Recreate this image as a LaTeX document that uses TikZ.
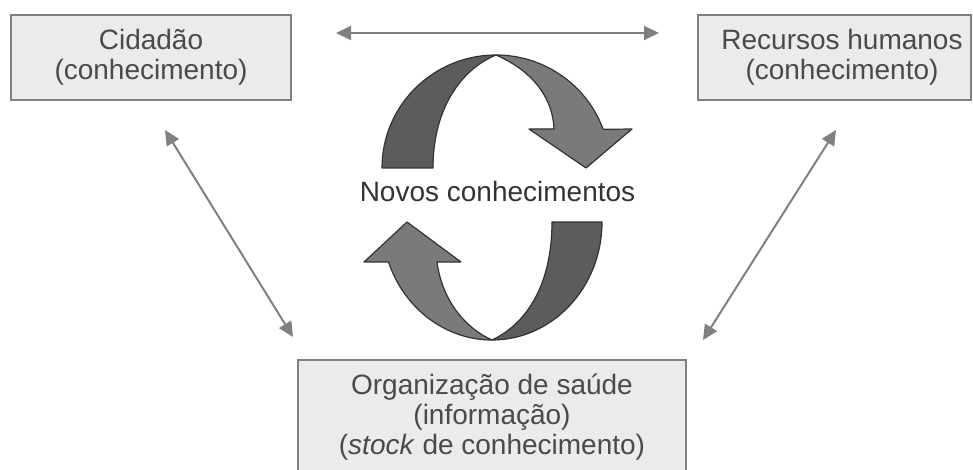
\documentclass[tikz,border=0pt]{standalone}
\usepackage{fontspec}
\setmainfont{Liberation Sans}
\usetikzlibrary{arrows.meta}
\definecolor{boxfill}{HTML}{EBEBEB}
\definecolor{boxline}{HTML}{808080}
\definecolor{boxtext}{HTML}{4A4A4A}
\definecolor{darkband}{HTML}{5C5C5C}
\definecolor{lightband}{HTML}{7A7A7A}
\definecolor{bandline}{HTML}{333333}
\begin{document}
\begin{tikzpicture}[x=1pt,y=-1pt,
  caixa/.style={draw=boxline,line width=2pt,fill=boxfill,text=boxtext,align=center,
    font=\fontsize{28}{30}\selectfont,inner sep=0pt},
  seta/.style={draw=boxline,line width=2pt,
    {Triangle[length=15pt,width=14pt]}-{Triangle[length=15pt,width=14pt]}},
  fita/.style={draw=bandline,line width=1.2pt,line join=round}]
  \useasboundingbox (0,0) rectangle (973,470);
  % caixas
  \node[caixa,minimum width=280pt,minimum height=85pt] (cid) at (151,57.5)
    {Cidadão\\(conhecimento)};
  \node[caixa,minimum width=273pt,minimum height=85pt] (rh) at (834.5,57.5)
    {\hspace*{15pt}Recursos humanos\\\hspace*{15pt}(conhecimento)};
  \node[caixa,minimum width=388pt,minimum height=114pt] (org) at (492,417)
    {Organização de saúde\\(informação)\\(\textit{stock} de conhecimento)};
  % ligacoes
  \draw[seta,shorten <=44pt,shorten >=38pt] ([yshift=24.5pt]cid.east) -- ([yshift=24.5pt]rh.west);
  \coordinate (cid tip) at (165,130);
  \coordinate (org tip left) at (293,337);
  \coordinate (rh tip) at (836,130);
  \coordinate (org tip right) at (703,340);
  \draw[seta] (cid tip) -- (org tip left);
  \draw[seta] (rh tip) -- (org tip right);
  % seta circular de cima
  \draw[fita,fill=darkband] (382,168)
    arc[start angle=180,end angle=270,x radius=114,y radius=113]
    .. controls (460,70) and (433,110) .. (433,168) -- cycle;
  \draw[fita,fill=lightband] (496,55)
    arc[start angle=270,end angle=340,x radius=114,y radius=113]
    -- (632,129) -- (586,168) -- (529,129) -- (554,129)
    .. controls (553,100) and (535,72) .. (496,55) -- cycle;
  % seta circular de baixo
  \draw[fita,fill=darkband] (602,222)
    arc[start angle=0,end angle=90,x radius=110,y radius=118]
    .. controls (530,322) and (552,280) .. (552,222) -- cycle;
  \draw[fita,fill=lightband] (492,340)
    arc[start angle=90,end angle=160.2,x radius=110,y radius=118]
    -- (364,262) -- (407,222) -- (461,262) -- (437,262)
    .. controls (442,300) and (465,328) .. (492,340) -- cycle;
  \node[anchor=base,text=bandline,font=\fontsize{28}{30}\selectfont] (novos) at (497.5,202)
    {Novos conhecimentos};
\end{tikzpicture}
\end{document}
